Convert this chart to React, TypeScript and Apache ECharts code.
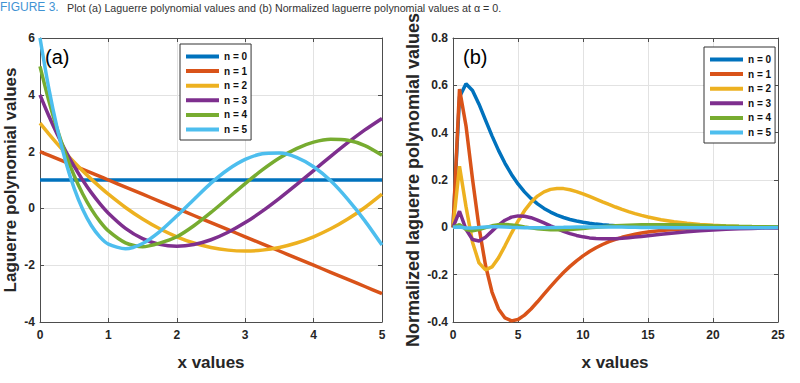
import React, { useEffect, useRef } from 'react';
import * as echarts from 'echarts';

const seriesNames = ['n = 0', 'n = 1', 'n = 2', 'n = 3', 'n = 4', 'n = 5'];
const seriesColors = ['#0072BD', '#D95319', '#EDB120', '#7E2F8E', '#77AC30', '#4DBEEE'];

// Panel (a): Laguerre polynomial values
const xA = [0, 0.125, 0.25, 0.375, 0.5, 0.625, 0.75, 0.875, 1, 1.25, 1.5, 1.75, 2, 2.25, 2.5, 2.75, 3, 3.25, 3.5, 3.75, 4, 4.25, 4.5, 4.75, 5];
const lagN0 = [1, 1, 1, 1, 1, 1, 1, 1, 1, 1, 1, 1, 1, 1, 1, 1, 1, 1, 1, 1, 1, 1, 1, 1, 1];
const lagN1 = [2, 1.875, 1.75, 1.625, 1.5, 1.375, 1.25, 1.125, 1, 0.75, 0.5, 0.25, 0, -0.25, -0.5, -0.75, -1, -1.25, -1.5, -1.75, -2, -2.25, -2.5, -2.75, -3];
const lagN2 = [3, 2.633, 2.281, 1.945, 1.625, 1.32, 1.031, 0.758, 0.5, 0.031, -0.375, -0.719, -1, -1.219, -1.375, -1.469, -1.5, -1.469, -1.375, -1.219, -1, -0.719, -0.375, 0.031, 0.5];
const lagN3 = [4, 3.281, 2.622, 2.022, 1.479, 0.991, 0.555, 0.17, -0.167, -0.701, -1.063, -1.268, -1.333, -1.273, -1.104, -0.841, -0.5, -0.096, 0.354, 0.836, 1.333, 1.831, 2.313, 2.763, 3.167];
const lagN4 = [5, 3.827, 2.8, 1.91, 1.148, 0.506, -0.026, -0.456, -0.792, -1.213, -1.352, -1.221, -1, -0.612, -0.143, 0.365, 0.875, 1.354, 1.773, 2.107, 2.333, 2.435, 2.398, 2.214, 1.875];
const lagN5 = [6, 4.276, 2.837, 1.654, 0.703, -0.042, -0.603, -1.001, -1.258, -1.423, -1.235, -0.815, -0.267, 0.317, 0.889, 1.37, 1.725, 1.925, 1.951, 1.798, 1.467, 0.97, 0.317, -0.439, -1.292];

// Panel (b): normalized Laguerre values
const xB = [0, 0.5, 1, 1.5, 2, 2.5, 3, 3.5, 4, 4.5, 5, 5.5, 6, 6.5, 7, 7.5, 8, 8.5, 9, 9.5, 10, 10.5, 11, 11.5, 12, 12.5, 13, 13.5, 14, 14.5, 15, 16, 17, 18, 19, 20, 21, 22, 23, 24, 25];
const normN0 = [0, 0.5507, 0.6065, 0.5785, 0.5203, 0.453, 0.3865, 0.3251, 0.2707, 0.2236, 0.1835, 0.1499, 0.122, 0.0989, 0.0799, 0.0644, 0.0518, 0.0416, 0.0333, 0.0267, 0.0213, 0.017, 0.0136, 0.0108, 0.0086, 0.0068, 0.0054, 0.0043, 0.0034, 0.0027, 0.0021, 0.0013, 0.0008, 0.0005, 0.0003, 0.0002, 0.0001, 0.0001, 0, 0, 0];
const normN1 = [0, 0.5841, 0.4289, 0.2045, 0, -0.1602, -0.2733, -0.3448, -0.3828, -0.3952, -0.3894, -0.371, -0.3449, -0.3146, -0.2825, -0.2505, -0.2198, -0.1911, -0.165, -0.1414, -0.1205, -0.1022, -0.0863, -0.0725, -0.0607, -0.0507, -0.0421, -0.035, -0.029, -0.0239, -0.0197, -0.0133, -0.0089, -0.0059, -0.0039, -0.0026, -0.0017, -0.0011, -0.0007, -0.0005, -0.0003];
const normN2 = [0, 0.2583, 0.0875, -0.0626, -0.1502, -0.1798, -0.1673, -0.129, -0.0781, -0.0242, 0.0265, 0.0703, 0.1056, 0.132, 0.1499, 0.1604, 0.1645, 0.1636, 0.1587, 0.1511, 0.1415, 0.1307, 0.1193, 0.1079, 0.0967, 0.0859, 0.0759, 0.0666, 0.0581, 0.0504, 0.0436, 0.0321, 0.0234, 0.0168, 0.0119, 0.0084, 0.0058, 0.004, 0.0028, 0.0019, 0.0013];
const normN3 = [0, 0.0679, -0.0084, -0.0512, -0.0578, -0.0417, -0.0161, 0.0096, 0.0301, 0.0431, 0.0484, 0.0471, 0.0407, 0.0307, 0.0189, 0.0064, -0.0058, -0.0168, -0.0264, -0.0342, -0.0402, -0.0446, -0.0473, -0.0486, -0.0487, -0.0478, -0.0461, -0.0439, -0.0413, -0.0384, -0.0354, -0.0294, -0.0237, -0.0187, -0.0144, -0.011, -0.0082, -0.0061, -0.0045, -0.0032, -0.0023];
const normN4 = [0, 0.0118, -0.0089, -0.0146, -0.0097, -0.0012, 0.0063, 0.0107, 0.0118, 0.01, 0.0064, 0.002, -0.0023, -0.0059, -0.0086, -0.0102, -0.0106, -0.0101, -0.0088, -0.0069, -0.0046, -0.0022, 0.0002, 0.0025, 0.0046, 0.0065, 0.008, 0.0092, 0.0101, 0.0107, 0.0111, 0.0111, 0.0104, 0.0094, 0.0081, 0.0068, 0.0056, 0.0045, 0.0036, 0.0028, 0.0021];
const normN5 = [0, 0.0013, -0.0026, -0.0024, -0.0005, 0.0014, 0.0023, 0.0022, 0.0014, 0.0002, -0.0008, -0.0016, -0.002, -0.002, -0.0017, -0.0012, -0.0005, 0.0001, 0.0008, 0.0013, 0.0016, 0.0019, 0.0019, 0.0018, 0.0016, 0.0014, 0.001, 0.0006, 0.0002, -0.0002, -0.0006, -0.0012, -0.0017, -0.002, -0.0021, -0.002, -0.0019, -0.0017, -0.0015, -0.0013, -0.0011];

const lagSeries = [lagN0, lagN1, lagN2, lagN3, lagN4, lagN5];
const normSeries = [normN0, normN1, normN2, normN3, normN4, normN5];

const titleLead = 'FIGURE 3.';
const titleRest = 'Plot (a) Laguerre polynomial values and (b) Normalized laguerre polynomial values at α = 0.';
const yNameA = 'Laguerre polynomial values';
const yNameB = 'Normalized laguerre polynomial values';
const xName = 'x values';

const FONT = '"Liberation Sans", Arial, Helvetica, sans-serif';

export default function App() {
  const ref = useRef<HTMLDivElement>(null);

  useEffect(() => {
    const chart = echarts.init(ref.current as HTMLDivElement, null, { renderer: 'svg' });
    const zip = (xs: number[], ys: number[]) => xs.map((x, i) => [x, ys[i]]);

    const axisColor = '#4d4d4d';
    const labelStyle = (margin: number) => ({
      show: true,
      color: '#262626',
      fontFamily: FONT,
      fontSize: 12,
      fontWeight: 'bold',
      margin,
    });
    const mkAxis = (extra: any, main: boolean) => ({
      type: 'value',
      axisLine: { show: true, onZero: false, lineStyle: { color: axisColor, width: 1 } },
      axisTick: { show: true, inside: true, length: 4, lineStyle: { color: axisColor } },
      axisLabel: { show: false },
      splitLine: { show: main, lineStyle: { color: '#e2e2e2', width: 1 } },
      ...extra,
    });

    const xAxis = [
      mkAxis({ gridIndex: 0, min: 0, max: 5, interval: 1, position: 'bottom', axisLabel: labelStyle(7) }, true),
      mkAxis({ gridIndex: 1, min: 0, max: 25, interval: 5, position: 'bottom', axisLabel: labelStyle(7) }, true),
      mkAxis({ gridIndex: 0, min: 0, max: 5, interval: 1, position: 'top' }, false),
      mkAxis({ gridIndex: 1, min: 0, max: 25, interval: 5, position: 'top' }, false),
    ];
    const yAxis = [
      mkAxis({ gridIndex: 0, min: -4, max: 6, interval: 2, position: 'left', axisLabel: labelStyle(5) }, true),
      mkAxis({ gridIndex: 1, min: -0.4, max: 0.8, interval: 0.2, position: 'left', axisLabel: labelStyle(5) }, true),
      mkAxis({ gridIndex: 0, min: -4, max: 6, interval: 2, position: 'right' }, false),
      mkAxis({ gridIndex: 1, min: -0.4, max: 0.8, interval: 0.2, position: 'right' }, false),
    ];

    const series: any[] = [];
    seriesNames.forEach((name, i) => {
      series.push({
        type: 'line',
        name,
        xAxisIndex: 0,
        yAxisIndex: 0,
        data: zip(xA, lagSeries[i]),
        symbol: 'none',
        showSymbol: false,
        smooth: 0.25,
        lineStyle: { width: 3.5, color: seriesColors[i] },
        itemStyle: { color: seriesColors[i] },
      });
    });
    seriesNames.forEach((name, i) => {
      series.push({
        type: 'line',
        name,
        xAxisIndex: 1,
        yAxisIndex: 1,
        data: zip(xB, normSeries[i]),
        symbol: 'none',
        showSymbol: false,
        lineStyle: { width: 3.5, color: seriesColors[i] },
        itemStyle: { color: seriesColors[i] },
      });
    });

    const legendCommon = {
      orient: 'vertical',
      data: seriesNames.map((n) => ({ name: n, icon: 'rect' })),
      itemWidth: 33,
      itemHeight: 4,
      itemGap: 3.6,
      padding: [7, 4, 5, 6],
      backgroundColor: '#ffffff',
      borderColor: '#333333',
      borderWidth: 1,
      borderRadius: 0,
      selectedMode: false,
      textStyle: { color: '#111', fontFamily: FONT, fontSize: 10, fontWeight: 'bold', lineHeight: 11 },
    };

    const option: any = {
      animation: false,
      backgroundColor: '#ffffff',
      grid: [
        { left: 40, top: 38, width: 342, height: 284, containLabel: false },
        { left: 453, top: 38, width: 325, height: 284, containLabel: false },
      ],
      xAxis,
      yAxis,
      legend: [
        { ...legendCommon, left: 180, top: 44 },
        { ...legendCommon, left: 704, top: 47 },
      ],
      series,
      graphic: [
        {
          type: 'text', left: 0, top: 1,
          style: { text: titleLead, fill: '#3f93d3', font: `12px ${FONT}` },
        },
        {
          type: 'text', left: 67, top: 2,
          style: { text: titleRest, fill: '#333333', font: `10.7px ${FONT}` },
        },
        {
          type: 'text', x: 10, y: 180, rotation: Math.PI / 2,
          style: { text: yNameA, fill: '#262626', font: `bold 17px ${FONT}`, align: 'center', verticalAlign: 'middle', textAlign: 'center', textVerticalAlign: 'middle' },
        },
        {
          type: 'text', x: 413, y: 180, rotation: Math.PI / 2,
          style: { text: yNameB, fill: '#262626', font: `bold 18px ${FONT}`, align: 'center', verticalAlign: 'middle', textAlign: 'center', textVerticalAlign: 'middle' },
        },
        {
          type: 'text', x: 211, y: 362,
          style: { text: xName, fill: '#262626', font: `bold 17px ${FONT}`, align: 'center', verticalAlign: 'middle', textAlign: 'center', textVerticalAlign: 'middle' },
        },
        {
          type: 'text', x: 615, y: 362,
          style: { text: xName, fill: '#262626', font: `bold 17px ${FONT}`, align: 'center', verticalAlign: 'middle', textAlign: 'center', textVerticalAlign: 'middle' },
        },
        {
          type: 'text', x: 45, y: 57,
          style: { text: '(a)', fill: '#000000', font: `20px ${FONT}`, align: 'left', verticalAlign: 'middle', textAlign: 'left', textVerticalAlign: 'middle' },
        },
        {
          type: 'text', x: 463, y: 57,
          style: { text: '(b)', fill: '#000000', font: `20px ${FONT}`, align: 'left', verticalAlign: 'middle', textAlign: 'left', textVerticalAlign: 'middle' },
        },
      ],
    };

    chart.setOption(option);
    return () => chart.dispose();
  }, []);

  return (
    <div
      ref={ref}
      style={{ position: 'fixed', left: 0, top: 0, width: 800, height: 383, background: '#fff' }}
    />
  );
}
